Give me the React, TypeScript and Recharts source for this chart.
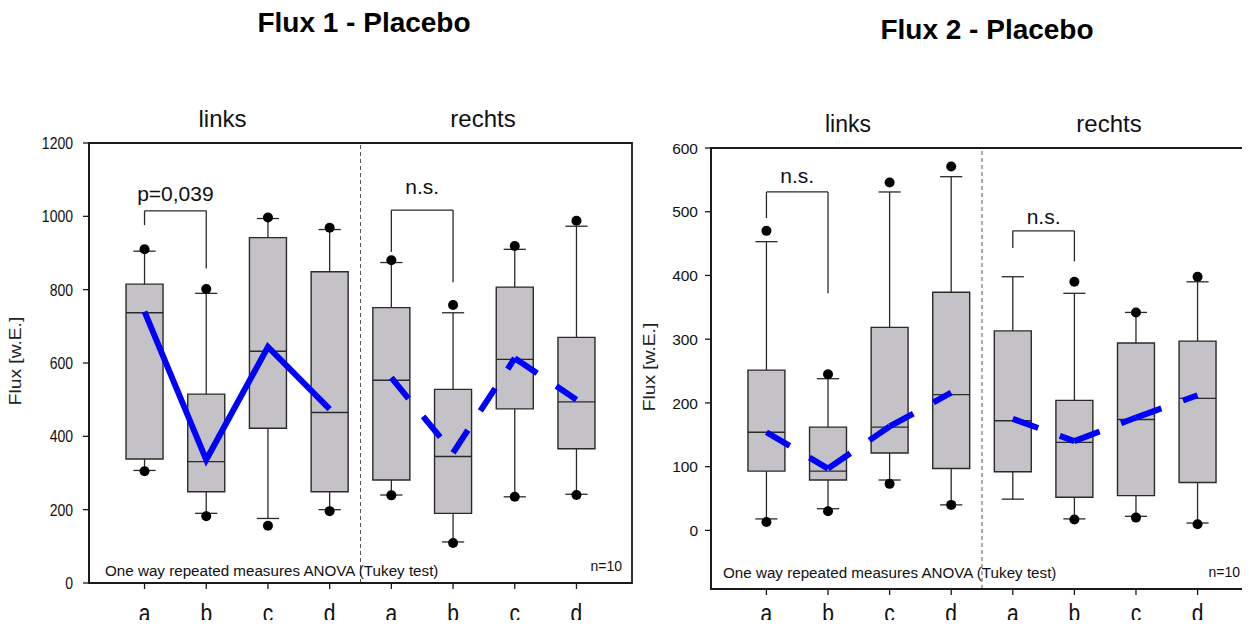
import React from 'react';
import { ComposedChart, XAxis, YAxis, ReferenceArea, ReferenceLine, Scatter, Line } from 'recharts';

// ---------- data ----------
const categories = ['a', 'b', 'c', 'd', 'a', 'b', 'c', 'd'];
const groupLabels = ['links', 'rechts'];

// Flux 1 - Placebo
const f1Q1 = [338, 249, 422, 249, 281, 190, 475, 366];
const f1Median = [737, 331, 632, 465, 553, 345, 610, 494];
const f1Q3 = [815, 515, 942, 849, 751, 528, 807, 670];
const f1WhiskerLow = [307, 190, 176, 200, 240, 112, 235, 242];
const f1WhiskerHigh = [905, 790, 994, 964, 874, 737, 910, 973];
const f1OutlierLow: (number | null)[] = [305, 182, 156, 196, 239, 109, 235, 240];
const f1OutlierHigh: (number | null)[] = [910, 802, 997, 969, 880, 758, 919, 988];
const f1Mean = [740, 336, 644, 474, 560, 355, 613, 500];
const f1YTicks = [0, 200, 400, 600, 800, 1000, 1200];
const f1Brackets = [
  { from: 0, to: 1, top: 1015, leftEnd: 976, rightEnd: 858, label: 'p=0,039' },
  { from: 4, to: 5, top: 1017, leftEnd: 903, rightEnd: 820, label: 'n.s.' },
];

// Flux 2 - Placebo
const f2Q1 = [93, 79, 121.5, 97, 92, 52, 54.5, 75];
const f2Median = [154, 93, 162, 213, 172, 138, 174, 207];
const f2Q3 = [251.5, 162, 318.6, 373.6, 313, 204, 294, 297];
const f2WhiskerLow = [18, 34, 79, 40, 49, 18, 22, 11.5];
const f2WhiskerHigh = [453, 238, 531, 555, 398, 372, 342, 390];
const f2OutlierLow: (number | null)[] = [13, 30, 73, 40, null, 17, 20, 9.5];
const f2OutlierHigh: (number | null)[] = [470, 245, 546, 571, null, 390, 342, 398];
const f2Mean = [154, 97, 163, 216, 175, 140, 177, 212];
const f2YTicks = [0, 100, 200, 300, 400, 500, 600];
const f2Brackets = [
  { from: 0, to: 1, top: 531, leftEnd: 490, rightEnd: 372, label: 'n.s.' },
  { from: 4, to: 5, top: 470, leftEnd: 443, rightEnd: 422, label: 'n.s.' },
];

// ---------- styles ----------
const FONT = '"Liberation Sans", Arial, Helvetica, sans-serif';
const TEXT = '#111';
const AXIS = '#1a1a1a';
const BOX_FILL = '#c4c2c6';
const BOX_STROKE = '#2a2a2a';
const BLUE = '#0000ff';
const BOX_HALF = 0.3;
const CAP_HALF = 0.18;
const X_DOMAIN: [number, number] = [-0.9, 7.9];
const X_TICKS = categories.map((_, i) => i);

type Bracket = { from: number; to: number; top: number; leftEnd: number; rightEnd: number; label: string };

type PanelProps = {
  left: number;
  margin: { top: number; right: number; bottom: number; left: number };
  q1: number[];
  med: number[];
  q3: number[];
  wLo: number[];
  wHi: number[];
  oLo: (number | null)[];
  oHi: (number | null)[];
  mean: number[];
  yDomain: [number, number];
  yTicks: number[];
  brackets: Bracket[];
  bracketOffsets: number[];
  groupDashed: boolean[];
  yTickFont: number;
  yTickScale: number;
  yTickMargin: number;
  xTickDy: number;
};

const W = 640;
const H = 628;

function Panel(p: PanelProps) {
  const idx = categories.map((_, i) => i);

  const YTick = (props: any) => {
    const { x, y, payload } = props;
    return (
      <g transform={`translate(${x},${y})`}>
        <text
          textAnchor="end"
          fontSize={p.yTickFont}
          fill={TEXT}
          fontFamily={FONT}
          transform={`scale(1,${p.yTickScale})`}
          dy="0.36em"
        >
          {payload.value}
        </text>
      </g>
    );
  };

  const XTick = (props: any) => {
    const { x, y, payload } = props;
    return (
      <g transform={`translate(${x},${y + p.xTickDy})`}>
        <text textAnchor="middle" fontSize={21} fill={TEXT} fontFamily={FONT} transform="scale(1,1.2)">
          {categories[payload.value]}
        </text>
      </g>
    );
  };

  const lineProps = { stroke: BOX_STROKE, strokeWidth: 1.3, ifOverflow: 'visible' as const };

  const boxes = idx.map((i) => (
    <ReferenceArea
      key={'box' + i}
      x1={i - BOX_HALF}
      x2={i + BOX_HALF}
      y1={p.q1[i]}
      y2={p.q3[i]}
      fill={BOX_FILL}
      fillOpacity={1}
      stroke={BOX_STROKE}
      strokeWidth={1.4}
      ifOverflow="visible"
    />
  ));

  const medians = idx.map((i) => (
    <ReferenceLine
      key={'med' + i}
      segment={[
        { x: i - BOX_HALF, y: p.med[i] },
        { x: i + BOX_HALF, y: p.med[i] },
      ]}
      {...lineProps}
    />
  ));

  const whiskers = idx.flatMap((i) => [
    <ReferenceLine key={'wh' + i} segment={[{ x: i, y: p.q3[i] }, { x: i, y: p.wHi[i] }]} {...lineProps} />,
    <ReferenceLine key={'wl' + i} segment={[{ x: i, y: p.q1[i] }, { x: i, y: p.wLo[i] }]} {...lineProps} />,
    <ReferenceLine
      key={'ch' + i}
      segment={[{ x: i - CAP_HALF, y: p.wHi[i] }, { x: i + CAP_HALF, y: p.wHi[i] }]}
      {...lineProps}
    />,
    <ReferenceLine
      key={'cl' + i}
      segment={[{ x: i - CAP_HALF, y: p.wLo[i] }, { x: i + CAP_HALF, y: p.wLo[i] }]}
      {...lineProps}
    />,
  ]);

  const brackets = p.brackets.flatMap((b, k) => [
    <ReferenceLine
      key={'bt' + k}
      segment={[{ x: b.from, y: b.top }, { x: b.to, y: b.top }]}
      {...lineProps}
      label={{
        value: b.label,
        position: 'top',
        offset: p.bracketOffsets[k],
        fontSize: 21,
        fill: TEXT,
        fontFamily: FONT,
      }}
    />,
    <ReferenceLine key={'bl' + k} segment={[{ x: b.from, y: b.top }, { x: b.from, y: b.leftEnd }]} {...lineProps} />,
    <ReferenceLine key={'br' + k} segment={[{ x: b.to, y: b.top }, { x: b.to, y: b.rightEnd }]} {...lineProps} />,
  ]);

  const outliers = idx.flatMap((i) =>
    [p.oHi[i], p.oLo[i]].filter((v) => v !== null).map((v) => ({ x: i, y: v as number }))
  );

  const meanLines: React.ReactNode[] = [];
  [0, 1].forEach((g) => {
    const pts = [0, 1, 2, 3].map((j) => ({ x: g * 4 + j, y: p.mean[g * 4 + j] }));
    if (!p.groupDashed[g]) {
      meanLines.push(
        <Line
          key={'ms' + g}
          data={pts}
          dataKey="y"
          type="linear"
          stroke={BLUE}
          strokeWidth={6}
          dot={false}
          activeDot={false}
          isAnimationActive={false}
        />
      );
    } else {
      for (let s = 0; s < 3; s++) {
        meanLines.push(
          <Line
            key={'md' + g + '_' + s}
            data={[pts[s], pts[s + 1]]}
            dataKey="y"
            type="linear"
            stroke={BLUE}
            strokeWidth={6}
            strokeDasharray="27 23"
            dot={false}
            activeDot={false}
            isAnimationActive={false}
          />
        );
      }
    }
  });

  return (
    <div style={{ position: 'absolute', left: p.left, top: 0, width: W, height: H }}>
      <ComposedChart width={W} height={H} margin={p.margin}>
        <XAxis
          dataKey="x"
          type="number"
          domain={X_DOMAIN}
          ticks={X_TICKS}
          interval={0}
          tickSize={6}
          tickMargin={2}
          stroke={AXIS}
          axisLine={{ stroke: AXIS, strokeWidth: 1.8 }}
          tickLine={{ stroke: AXIS, strokeWidth: 1.3 }}
          tick={<XTick />}
          height={30}
          allowDataOverflow
        />
        <YAxis
          type="number"
          domain={p.yDomain}
          ticks={p.yTicks}
          interval={0}
          tickSize={6}
          tickMargin={p.yTickMargin}
          stroke={AXIS}
          axisLine={{ stroke: AXIS, strokeWidth: 1.8 }}
          tickLine={{ stroke: AXIS, strokeWidth: 1.3 }}
          tick={<YTick />}
          width={60}
          allowDataOverflow
        />
        <ReferenceArea
          x1={X_DOMAIN[0]}
          x2={X_DOMAIN[1]}
          y1={p.yDomain[0]}
          y2={p.yDomain[1]}
          fill="none"
          fillOpacity={0}
          stroke={AXIS}
          strokeWidth={1.8}
          ifOverflow="visible"
        />
        {boxes}
        {medians}
        {whiskers}
        {brackets}
        <ReferenceLine x={3.5} stroke="#555" strokeDasharray="4 3" strokeWidth={1} />
        <Scatter
          data={outliers}
          dataKey="y"
          isAnimationActive={false}
          shape={(sp: any) => <circle cx={sp.cx} cy={sp.cy} r={5} fill="#000" />}
        />
        {meanLines}
      </ComposedChart>
    </div>
  );
}

export default function App() {
  const t = (props: any) => ({ fontFamily: FONT, fill: TEXT, ...props });
  return (
    <div
      style={{
        position: 'relative',
        width: 1250,
        height: 628,
        margin: -8,
        overflow: 'hidden',
        background: '#fff',
        fontFamily: FONT,
      }}
    >
      <Panel
        left={0}
        margin={{ top: 143, right: 8, bottom: 15, left: 29 }}
        q1={f1Q1}
        med={f1Median}
        q3={f1Q3}
        wLo={f1WhiskerLow}
        wHi={f1WhiskerHigh}
        oLo={f1OutlierLow}
        oHi={f1OutlierHigh}
        mean={f1Mean}
        yDomain={[0, 1200]}
        yTicks={f1YTicks}
        brackets={f1Brackets}
        bracketOffsets={[10, 16]}
        groupDashed={[false, true]}
        yTickFont={14}
        yTickScale={1.2}
        yTickMargin={10}
        xTickDy={31}
      />
      <Panel
        left={640}
        margin={{ top: 148, right: 27, bottom: 9, left: 11 }}
        q1={f2Q1}
        med={f2Median}
        q3={f2Q3}
        wLo={f2WhiskerLow}
        wHi={f2WhiskerHigh}
        oLo={f2OutlierLow}
        oHi={f2OutlierHigh}
        mean={f2Mean}
        yDomain={[-92, 600]}
        yTicks={f2YTicks}
        brackets={f2Brackets}
        bracketOffsets={[9, 7]}
        groupDashed={[true, true]}
        yTickFont={15.5}
        yTickScale={1}
        yTickMargin={7}
        xTickDy={25}
      />
      <svg
        width={1250}
        height={628}
        style={{ position: 'absolute', left: 0, top: 0, pointerEvents: 'none' }}
      >
        <text {...t({ x: 364, y: 32, fontSize: 28, fontWeight: 'bold', textAnchor: 'middle', fill: '#000' })}>
          Flux 1 - Placebo
        </text>
        <text {...t({ x: 987, y: 39, fontSize: 28, fontWeight: 'bold', textAnchor: 'middle', fill: '#000' })}>
          Flux 2 - Placebo
        </text>
        <text {...t({ x: 222.5, y: 126.5, fontSize: 24, textAnchor: 'middle' })}>{groupLabels[0]}</text>
        <text {...t({ x: 483, y: 126.5, fontSize: 24, textAnchor: 'middle' })}>{groupLabels[1]}</text>
        <text {...t({ x: 848, y: 131.5, fontSize: 23, textAnchor: 'middle' })}>{groupLabels[0]}</text>
        <text {...t({ x: 1109, y: 132, fontSize: 24, textAnchor: 'middle' })}>{groupLabels[1]}</text>
        <g transform="translate(16,361) rotate(-90) scale(1.2,1)">
          <text {...t({ x: 0, y: 0, fontSize: 16, textAnchor: 'middle', dominantBaseline: 'central', fill: '#222' })}>
            Flux [w.E.]
          </text>
        </g>
        <g transform="translate(650,367) rotate(-90) scale(1.2,1)">
          <text {...t({ x: 0, y: 0, fontSize: 16, textAnchor: 'middle', dominantBaseline: 'central', fill: '#222' })}>
            Flux [w.E.]
          </text>
        </g>
        <text {...t({ x: 105, y: 576, fontSize: 15.2 })}>One way repeated measures ANOVA (Tukey test)</text>
        <text {...t({ x: 723, y: 578, fontSize: 15.2 })}>One way repeated measures ANOVA (Tukey test)</text>
        <text {...t({ x: 622, y: 570.5, fontSize: 14, textAnchor: 'end' })}>n=10</text>
        <text {...t({ x: 1240, y: 576.5, fontSize: 14, textAnchor: 'end' })}>n=10</text>
      </svg>
    </div>
  );
}
